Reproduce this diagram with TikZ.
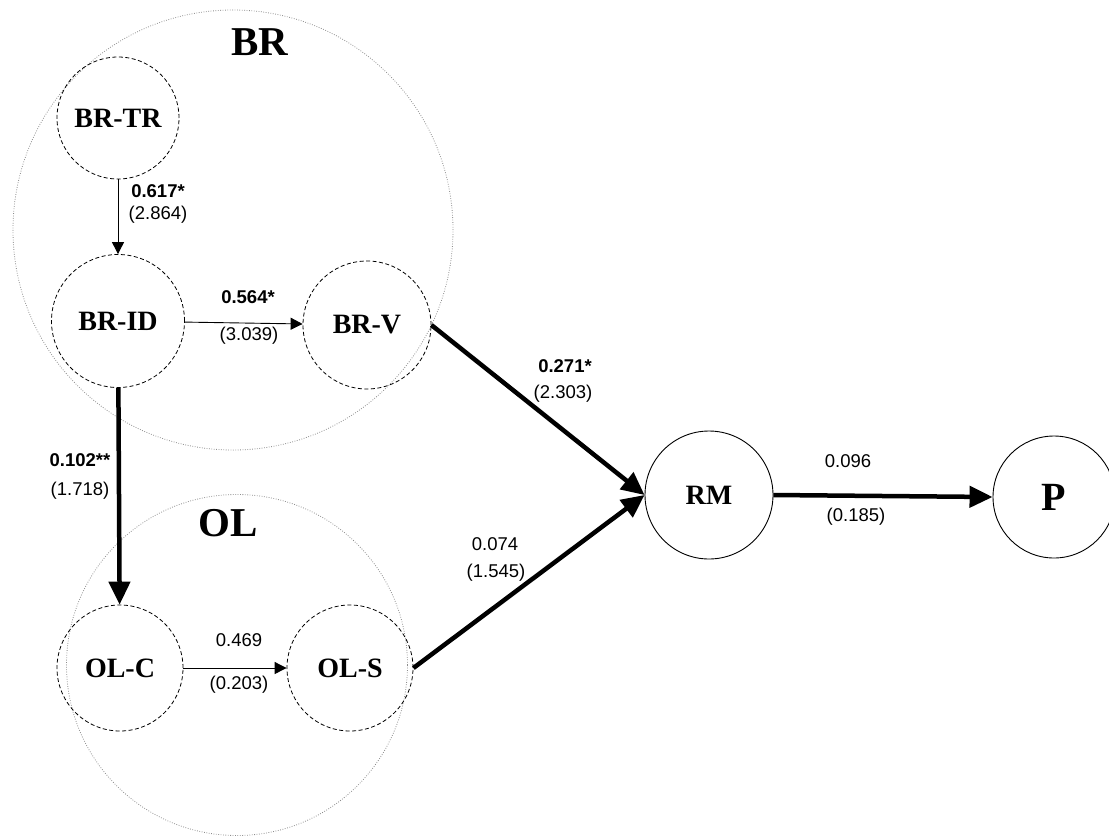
\documentclass[tikz,border=0pt]{standalone}
\usepackage{fontspec}
\setmainfont{Liberation Serif}
\setsansfont{Liberation Sans}
\usetikzlibrary{arrows.meta}
\tikzset{
  latent/.style={circle, draw=black, line width=0.8pt, dashed, dash pattern=on 4pt off 2.5pt, inner sep=0pt, font=\fontsize{28}{32}\selectfont\bfseries},
  solidlatent/.style={circle, draw=black, line width=0.9pt, inner sep=0pt, font=\fontsize{28}{32}\selectfont\bfseries},
  groupcircle/.style={circle, draw=black!45, line width=0.8pt, dash pattern=on 0.8pt off 1.6pt, inner sep=0pt},
  grouplabel/.style={font=\fontsize{41}{45}\selectfont\bfseries, inner sep=0pt},
  coef/.style={font=\sffamily\fontsize{18.5}{22}\selectfont, inner sep=0pt},
  coefb/.style={font=\sffamily\bfseries\fontsize{18.5}{22}\selectfont, inner sep=0pt},
  thinarrow/.style={line width=0.9pt, -{Triangle[length=12pt,width=12pt]}},
  thickarrow/.style={line width=4.5pt, -{Triangle[length=23pt,width=21pt]}},
}
\begin{document}
\begin{tikzpicture}[x=1pt,y=-1pt]
\useasboundingbox (0,0) rectangle (1109,836);
% group circles
\node[groupcircle, minimum size=440pt] (brg) at (233,230) {};
\node[groupcircle, minimum size=341pt] (olg) at (237,665) {};
\node[grouplabel] (brlab) at (260,42) {BR};
\node[grouplabel] (ollab) at (228,523) {OL};
% latent nodes
\node[latent, minimum size=122pt] (brtr) at (118,118) {BR-TR};
\node[latent, minimum size=133pt] (brid) at (118,321) {BR-ID};
\node[latent, minimum size=128pt] (brv) at (367,325) {BR-V};
\node[latent, minimum size=126pt] (olc) at (120,668) {OL-C};
\node[latent, minimum size=126pt] (ols) at (350,668) {OL-S};
\node[solidlatent, minimum size=128pt] (rm) at (709,495) {RM};
\node[solidlatent, minimum size=122pt, font=\fontsize{40}{44}\selectfont\bfseries] (p) at (1054,497) {P};
% connectors
\draw[thinarrow] (brtr) -- (brid);
\draw[thinarrow] (brid) -- (brv);
\draw[thickarrow] (brid) -- (olc);
\draw[thinarrow] (olc) -- (ols);
\draw[thickarrow] (brv.east) -- (rm.west);
\draw[thickarrow] (ols.east) -- (rm.west);
\draw[thickarrow] (rm.east) -- (p.west);
% coefficients
\node[coefb] (c1a) at (158,191) {0.617*};
\node[coef] (c1b) at (158,215) {(2.864)};
\node[coefb] (c2a) at (248,297) {0.564*};
\node[coef] (c2b) at (249,336) {(3.039)};
\node[coefb] (c3a) at (80,460) {0.102**};
\node[coef] (c3b) at (80,491) {(1.718)};
\node[coef] (c4a) at (239,640) {0.469};
\node[coef] (c4b) at (239,685) {(0.203)};
\node[coefb] (c5a) at (565,366) {0.271*};
\node[coef] (c5b) at (563,394) {(2.303)};
\node[coef] (c6a) at (495,544) {0.074};
\node[coef] (c6b) at (496,573) {(1.545)};
\node[coef] (c7a) at (848,461) {0.096};
\node[coef] (c7b) at (856,517) {(0.185)};
\end{tikzpicture}
\end{document}
